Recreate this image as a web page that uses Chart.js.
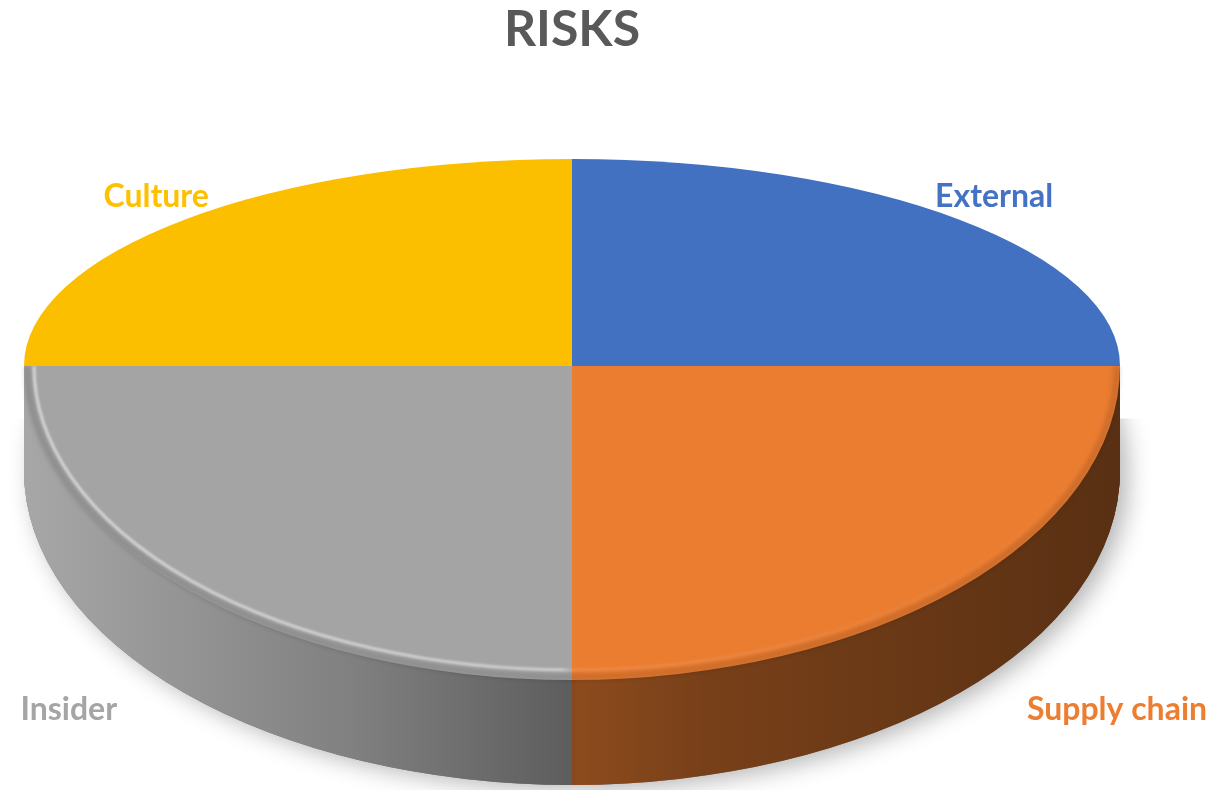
<!DOCTYPE html>
<html><head><meta charset="utf-8">
<script src="https://cdn.jsdelivr.net/npm/chart.js@4.4.0/dist/chart.umd.min.js"></script>
<style>html,body{margin:0;padding:0;background:#fff}#wrap{width:1218px;height:790px;position:relative}</style>
</head><body><div id="wrap"><canvas id="c"></canvas></div>
<script>
// ---- data ----
const chartTitle = 'RISKS';
const categories = ['External', 'Supply chain', 'Insider', 'Culture'];
const riskShares = [25, 25, 25, 25];
// ---- styles ----
const topColors = ['#4271C2', '#EB7D31', '#A4A4A4', '#FBBF00'];
const labelColors = ['#4472C4', '#ED7D31', '#A5A5A5', '#FFC000'];

function hexRgb(h) { const n = parseInt(h.slice(1), 16); return [(n >> 16) & 255, (n >> 8) & 255, n & 255]; }
function shade(h, f) { const [r, g, b] = hexRgb(h); return `rgb(${Math.round(r*f)},${Math.round(g*f)},${Math.round(b*f)})`; }

function geom(chart, o) {
  const a = chart.chartArea;
  const cx = Math.round((a.left + a.right) / 2);
  const rx = (a.right - a.left) / 2;
  const ryB = Math.round(rx * o.backTilt);
  const cy = Math.round(a.top + ryB);
  const ryF = a.bottom - o.depth - cy;
  return { cx, cy, rx, ryB, ryF, depth: o.depth };
}

function drawWithFill(ctx, el, fill) {
  const saved = el.options;
  el.options = Object.assign({}, saved, { backgroundColor: fill });
  el.draw(ctx);
  el.options = saved;
}

const pie3d = {
  id: 'pie3d',
  beforeDatasetsDraw(chart, args, o) {
    const ctx = chart.ctx;
    const arcs = chart.getDatasetMeta(0).data;
    const g = geom(chart, o);
    const W = chart.width, H = chart.height;
    const place = (el, d, ry) => {
      ctx.translate(g.cx, g.cy + d);
      ctx.scale(g.rx / el.outerRadius, ry / el.outerRadius);
      ctx.translate(-el.x, -el.y);
    };
    // soft shadow under the disc
    ctx.save();
    ctx.beginPath(); ctx.rect(0, g.cy + g.depth * 0.5, W, H); ctx.clip();
    ctx.shadowColor = 'rgba(0,0,0,0.30)';
    ctx.shadowBlur = 24; ctx.shadowOffsetX = 8; ctx.shadowOffsetY = 4;
    arcs.forEach(el => { ctx.save(); place(el, g.depth, g.ryF); drawWithFill(ctx, el, '#777'); ctx.restore(); });
    ctx.restore();
    // side wall
    const sideFills = arcs.map((el, i) => {
      const R = el.outerRadius;
      const gr = ctx.createLinearGradient(el.x - R, 0, el.x + R, 0);
      [[0, 1.02], [0.3, 0.78], [0.5, 0.57], [0.505, 0.6], [0.62, 0.51], [1, 0.38]]
        .forEach(([t, f]) => gr.addColorStop(t, shade(topColors[i], f)));
      return gr;
    });
    for (let d = g.depth; d >= 0; d -= 1) {
      ctx.save();
      ctx.beginPath(); ctx.rect(0, g.cy + d, W, H); ctx.clip();
      arcs.forEach((el, i) => { ctx.save(); place(el, d, g.ryF); drawWithFill(ctx, el, sideFills[i]); ctx.restore(); });
      ctx.restore();
    }
    // top face: back half and front half
    ctx.save();
    ctx.beginPath(); ctx.rect(0, 0, W, g.cy); ctx.clip();
    arcs.forEach(el => { ctx.save(); place(el, 0, g.ryB); el.draw(ctx); ctx.restore(); });
    ctx.restore();
    ctx.save();
    ctx.beginPath(); ctx.rect(0, g.cy, W, H); ctx.clip();
    arcs.forEach(el => { ctx.save(); place(el, 0, g.ryF); el.draw(ctx); ctx.restore(); });
    // bevel on front rim
    ctx.filter = 'blur(2px)';
    ctx.beginPath(); ctx.ellipse(g.cx, g.cy, g.rx - 3, g.ryF - 3, 0, 0, Math.PI);
    ctx.strokeStyle = 'rgba(0,0,0,0.13)'; ctx.lineWidth = 7; ctx.stroke();
    ctx.filter = 'blur(1px)';
    const hl = ctx.createLinearGradient(g.cx - g.rx, 0, g.cx + g.rx, 0);
    hl.addColorStop(0, 'rgba(255,255,255,0.55)');
    hl.addColorStop(0.49, 'rgba(255,255,255,0.5)');
    hl.addColorStop(0.5, 'rgba(255,255,255,0.12)');
    hl.addColorStop(1, 'rgba(255,255,255,0)');
    ctx.beginPath(); ctx.ellipse(g.cx, g.cy, g.rx - 10, g.ryF - 10, 0, 0, Math.PI);
    ctx.strokeStyle = hl; ctx.lineWidth = 3; ctx.stroke();
    ctx.restore();
    return false;
  },
  afterDraw(chart, args, o) {
    const ctx = chart.ctx;
    const g = geom(chart, o);
    ctx.save();
    ctx.font = o.labelFont;
    ctx.textBaseline = 'middle';
    chart.getDatasetMeta(0).data.forEach((el, i) => {
      const mid = (el.startAngle + el.endAngle) / 2;
      const c = Math.cos(mid), s = Math.sin(mid);
      const front = s > 0;
      const x = g.cx + c * g.rx * (front ? o.labelFrontX : o.labelBackX);
      const y = g.cy + s * (front ? g.ryF + g.depth : g.ryB) * o.labelY;
      ctx.textAlign = c < 0 ? 'right' : 'left';
      ctx.fillStyle = labelColors[i];
      ctx.fillText(chart.data.labels[i], x, y);
    });
    ctx.restore();
  }
};

new Chart(document.getElementById('c'), {
  type: 'pie',
  data: {
    labels: categories,
    datasets: [{ data: riskShares, backgroundColor: topColors, borderWidth: 0 }]
  },
  options: {
    responsive: true,
    maintainAspectRatio: false,
    animation: false,
    layout: { padding: { left: 24, right: 98, top: 0, bottom: 5 } },
    plugins: {
      legend: { display: false },
      tooltip: { enabled: false },
      title: {
        display: true, text: chartTitle, color: '#595959',
        font: { family: 'Lato', size: 50, weight: 'bold' },
        padding: { top: 0, bottom: 99 }
      },
      pie3d: {
        backTilt: 0.378, depth: 105,
        labelBackX: 0.937, labelFrontX: 1.174, labelY: 1.16,
        labelFont: 'bold 32px Lato'
      }
    }
  },
  plugins: [pie3d]
});
</script>
</body></html>
